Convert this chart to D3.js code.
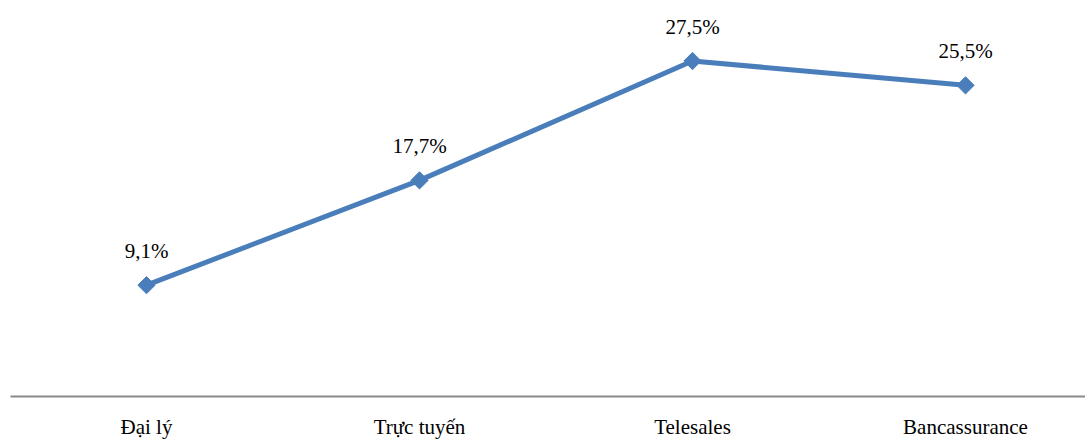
<!DOCTYPE html>
<html>
<head>
<meta charset="utf-8">
<script src="https://cdn.jsdelivr.net/npm/d3@7"></script>
<style>
html,body{margin:0;padding:0;background:#fff;overflow:hidden;}
svg{display:block;}
</style>
</head>
<body>
<svg id="chart" width="1085" height="439" font-family="Liberation Serif, serif"></svg>
<script>
const categories = ["Đại lý", "Trực tuyến", "Telesales", "Bancassurance"];
const values = [9.1, 17.7, 27.5, 25.5];
const valueLabels = ["9,1%", "17,7%", "27,5%", "25,5%"];

const svg = d3.select("#chart");
const FONT = "Liberation Serif, DejaVu Serif, serif";

const x = d3.scaleBand().domain(categories).range([10, 1102]);
const y = d3.scaleLinear().domain([0, 27.5]).range([396, 61]);

const xAxis = d3.axisBottom(x).tickSize(0).tickPadding(0);
const gx = svg.append("g").attr("transform", "translate(0,396)").call(xAxis)
  .attr("font-family", FONT).attr("font-size", 21);
gx.select(".domain").attr("stroke", "#898989").attr("stroke-width", 2);
gx.selectAll(".tick text")
  .attr("fill", "#000")
  .attr("dy", null)
  .attr("y", 38);

const data = categories.map((c, i) => ({c, v: values[i], l: valueLabels[i]}));
const cx = d => x(d.c) + x.bandwidth() / 2;

const line = d3.line().x(cx).y(d => y(d.v));
svg.append("path").datum(data)
  .attr("d", line)
  .attr("fill", "none")
  .attr("stroke", "#4a7ebb")
  .attr("stroke-width", 5)
  .attr("stroke-linejoin", "round");

const sym = d3.symbol().type(d3.symbolDiamond2).size(190);
svg.selectAll(".mk").data(data).enter().append("path")
  .attr("transform", d => `translate(${cx(d)},${y(d.v)})`)
  .attr("d", sym)
  .attr("fill", "#4a7ebb")
  .attr("stroke", "#4a7ebb")
  .attr("stroke-width", 1);

svg.append("g").attr("font-family", FONT).attr("font-size", 21)
  .selectAll("text").data(data).enter().append("text")
  .attr("x", cx)
  .attr("y", d => y(d.v) - 27)
  .attr("text-anchor", "middle")
  .attr("fill", "#000")
  .text(d => d.l);
</script>
</body>
</html>
